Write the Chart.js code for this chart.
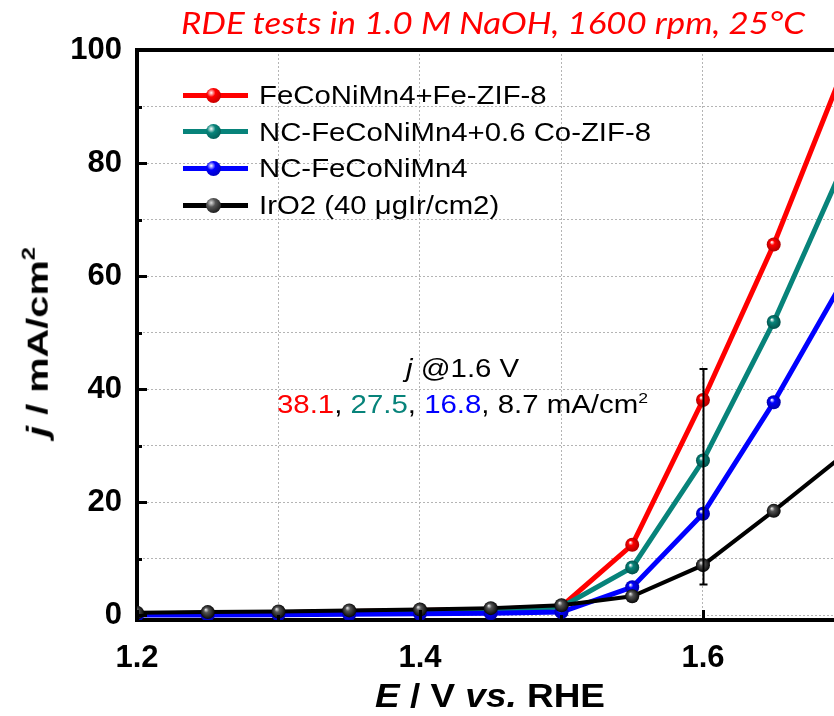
<!DOCTYPE html>
<html>
<head>
<meta charset="utf-8">
<script src="https://cdn.jsdelivr.net/npm/chart.js@4.4.1/dist/chart.umd.min.js"></script>
<style>
body { margin: 0; background: #fff; }
#wrap { position: relative; width: 834px; height: 716px; overflow: hidden; font-family: 'Liberation Sans', Arial, sans-serif; }
#myChart { position: absolute; left: 0; top: 0; }
.txt { position: absolute; white-space: nowrap; line-height: 1; transform-origin: left center; }
.sup { font-size: 0.6em; vertical-align: 0.7em; line-height: 0; }
.leg-line { position: absolute; height: 5px; }
.leg-dot { position: absolute; width: 15px; height: 15px; border-radius: 50%; }
</style>
</head>
<body>
<div id="wrap">
  <canvas id="myChart" width="834" height="716"></canvas>
  <div id="title" class="txt" style="color:#ff0000;font-family:Lato,'Open Sans',sans-serif;font-style:italic;font-size:30px;">RDE tests in 1.0 M NaOH, 1600 rpm, 25°C</div>
  <div id="ytitle" class="txt" style="font-weight:bold;font-size:30px;transform-origin:center center;"><i>j</i> / mA/cm<span class="sup">2</span></div>
  <div id="xtitle" class="txt" style="font-weight:bold;font-size:33px;"><i>E</i> / V <i>vs.</i> RHE</div>
  <div id="note1" class="txt" style="font-size:25px;"><i>j</i> @1.6 V</div>
  <div id="note2" class="txt" style="font-size:25px;"></div>
</div>
<script>
/*-----data-----*/
var potentials = [1.2, 1.25, 1.3, 1.35, 1.4, 1.45, 1.5, 1.55, 1.6, 1.65, 1.7];
var feZif8 = [0.3, 0.4, 0.5, 0.7, 0.9, 1.1, 1.6, 12.5, 38.1, 65.6, 97.0];
var coZif8 = [0.3, 0.4, 0.5, 0.7, 0.8, 1.0, 1.5, 8.5, 27.4, 51.9, 80.0];
var ncOnly = [0.1, 0.1, 0.15, 0.2, 0.3, 0.4, 0.6, 5.0, 18.0, 37.7, 59.6];
var iro2 = [0.5, 0.6, 0.7, 0.9, 1.05, 1.3, 1.8, 3.4, 8.9, 18.5, 28.5];

var seriesNames = ['FeCoNiMn4+Fe-ZIF-8', 'NC-FeCoNiMn4+0.6 Co-ZIF-8', 'NC-FeCoNiMn4', 'IrO2 (40 μgIr/cm2)'];
var seriesData = [feZif8, coZif8, ncOnly, iro2];

// j @ 1.6 V values written in the note
var noteValues = ['38.1', '27.5', '16.8', '8.7'];

// vertical bar at 1.6 V
var barPotential = 1.6;
var barRange = [5.5, 43.6];

var xGrid = [1.2, 1.3, 1.4, 1.5, 1.6];
var xLabels = [1.2, 1.4, 1.6];
var yGrid = [0, 10, 20, 30, 40, 50, 60, 70, 80, 90, 100];
var yLabels = [0, 20, 40, 60, 80, 100];

/*-----styles-----*/
var lineColors = ['#ff0000', '#07837a', '#0000ff', '#000000'];
var darkColors = ['#a80000', '#024d47', '#0000a0', '#000000'];
var lightColors = ['#ffffff', '#ffffff', '#ffffff', '#dddddd'];
var lineWidths = [5, 5, 5, 4];
var drawOrder = [3, 2, 1, 0];

function sphere(i) {
    return function(c) {
        if (c.type !== 'data') return lineColors[i];
        var xs = c.chart.scales.x, ys = c.chart.scales.y;
        if (!xs || !ys) return lineColors[i];
        var px = xs.getPixelForValue(c.parsed.x);
        var py = ys.getPixelForValue(c.parsed.y);
        if (!isFinite(px) || !isFinite(py)) return lineColors[i];
        var g = c.chart.ctx.createRadialGradient(px - 2, py - 2.5, 0.3, px, py, 7.5);
        g.addColorStop(0, lightColors[i]);
        g.addColorStop(0.3, i === 3 ? '#555555' : lineColors[i]);
        g.addColorStop(1, darkColors[i]);
        return g;
    };
}

var datasets = [];
for (var i = 0; i < seriesData.length; i++) {
    var pts = [];
    for (var k = 0; k < potentials.length; k++) {
        pts.push({ x: potentials[k], y: seriesData[i][k] });
    }
    datasets.push({
        label: seriesNames[i],
        data: pts,
        borderColor: lineColors[i],
        borderWidth: lineWidths[i],
        pointRadius: 7,
        pointBorderWidth: 0,
        pointBackgroundColor: sphere(i),
        order: drawOrder[i],
        clip: 0,
        tension: 0
    });
}

/*-----frame, inward ticks and the bar at 1.6 V-----*/
var framePlugin = {
    id: 'frame',
    afterDraw: function(chart) {
        var ctx = chart.ctx, a = chart.chartArea;
        var xs = chart.scales.x, ys = chart.scales.y;
        ctx.save();
        ctx.strokeStyle = '#000';
        ctx.lineWidth = 4;
        ctx.beginPath();
        ctx.moveTo(a.left - 2, a.top);
        ctx.lineTo(a.right, a.top);
        ctx.stroke();

        ctx.lineWidth = 3;
        for (var i = 0; i < yGrid.length; i++) {
            var py = Math.round(ys.getPixelForValue(yGrid[i])) + 0.5;
            var len = yLabels.indexOf(yGrid[i]) >= 0 ? 10 : 5;
            ctx.beginPath();
            ctx.moveTo(a.left, py);
            ctx.lineTo(a.left + len, py);
            ctx.stroke();
        }
        for (var j = 0; j < xGrid.length; j++) {
            var px = Math.round(xs.getPixelForValue(xGrid[j])) + 0.5;
            var xlen = xLabels.indexOf(xGrid[j]) >= 0 ? 10 : 5;
            ctx.beginPath();
            ctx.moveTo(px, a.bottom);
            ctx.lineTo(px, a.bottom - xlen);
            ctx.stroke();
        }

        var bx = Math.round(xs.getPixelForValue(barPotential)) + 0.5;
        var b1 = ys.getPixelForValue(barRange[0]);
        var b2 = ys.getPixelForValue(barRange[1]);
        ctx.lineWidth = 2;
        ctx.beginPath();
        ctx.moveTo(bx, b1); ctx.lineTo(bx, b2);
        ctx.moveTo(bx - 4, b1); ctx.lineTo(bx + 4, b1);
        ctx.moveTo(bx - 4, b2); ctx.lineTo(bx + 4, b2);
        ctx.stroke();
        ctx.restore();
    }
};

/*-----chart-----*/
var tickFont = { family: "'Liberation Sans', Arial, sans-serif", size: 31, weight: 'bold' };
var ctx = document.getElementById('myChart').getContext('2d');
var myChart = new Chart(ctx, {
    type: 'line',
    data: { datasets: datasets },
    options: {
        responsive: false,
        animation: false,
        layout: { autoPadding: false, padding: { top: 50, right: 0, left: 0, bottom: 0 } },
        plugins: { legend: { display: false }, tooltip: { enabled: false } },
        scales: {
            x: {
                type: 'linear',
                min: 1.2,
                max: 1.6926,
                afterFit: function(s) {
                    s.height = 96;
                    s.paddingLeft = 0;
                    s.paddingRight = 0;
                },
                afterBuildTicks: function(s) {
                    s.ticks = xGrid.map(function(v) { return { value: v }; });
                },
                ticks: {
                    color: '#000',
                    font: tickFont,
                    padding: 20,
                    autoSkip: false,
                    maxRotation: 0,
                    callback: function(v) { return xLabels.indexOf(v) >= 0 ? v.toFixed(1) : ''; }
                },
                grid: { color: '#b4b4b4', lineWidth: 1, drawTicks: false },
                border: { display: true, color: '#000', width: 4, dash: [2, 2] }
            },
            y: {
                min: -0.8,
                max: 100,
                afterFit: function(s) { s.width = 137; },
                afterBuildTicks: function(s) {
                    s.ticks = yGrid.map(function(v) { return { value: v }; });
                },
                ticks: {
                    color: '#000',
                    font: tickFont,
                    padding: 15,
                    autoSkip: false,
                    callback: function(v) { return yLabels.indexOf(v) >= 0 ? String(v) : ''; }
                },
                grid: { color: '#b4b4b4', lineWidth: 1, drawTicks: false },
                border: { display: true, color: '#000', width: 4, dash: [2, 2] }
            }
        }
    },
    plugins: [framePlugin]
});
// redraw once scales exist so the point gradients get their pixel positions
myChart.update();

/*-----text around the chart-----*/
function place(el, cx, cy, width) {
    var r = el.getBoundingClientRect();
    var s = width / r.width;
    el.style.left = (cx - width / 2) + 'px';
    el.style.top = (cy - r.height / 2) + 'px';
    el.style.transform = 'scaleX(' + s + ')';
    return s;
}

var note2 = document.getElementById('note2');
var noteHtml = '';
for (var n = 0; n < noteValues.length; n++) {
    var last = n === noteValues.length - 1;
    noteHtml += '<span style="color:' + lineColors[n] + '">' + noteValues[n] + '</span>';
    noteHtml += last ? ' mA/cm<span class="sup">2</span>' : ', ';
}
note2.innerHTML = noteHtml;

place(document.getElementById('title'), 493, 22, 624);
place(document.getElementById('xtitle'), 490, 695, 230);
var noteScale = place(note2, 462.5, 404, 371);
var note1 = document.getElementById('note1');
var n1w = note1.getBoundingClientRect().width * noteScale;
place(note1, 462.5, 368, n1w);

var yt = document.getElementById('ytitle');
var yr = yt.getBoundingClientRect();
yt.style.left = (38 - yr.width / 2) + 'px';
yt.style.top = (342 - yr.height / 2) + 'px';
yt.style.transform = 'rotate(-90deg) scaleX(' + (190 / yr.width) + ')';

/*-----legend-----*/
var wrap = document.getElementById('wrap');
var legTexts = [];
var widest = 0;
for (var L = 0; L < seriesNames.length; L++) {
    var cy = 95 + L * 36.7;
    var line = document.createElement('div');
    line.className = 'leg-line';
    line.style.left = '183px';
    line.style.width = '65px';
    line.style.top = (cy - 2.5) + 'px';
    line.style.background = lineColors[L];
    wrap.appendChild(line);

    var dot = document.createElement('div');
    dot.className = 'leg-dot';
    dot.style.left = (213 - 7.5) + 'px';
    dot.style.top = (cy - 7.5) + 'px';
    dot.style.background = 'radial-gradient(circle at 35% 32%, ' + lightColors[L] + ' 0, ' +
        (L === 3 ? '#555555' : lineColors[L]) + ' 30%, ' + darkColors[L] + ' 100%)';
    wrap.appendChild(dot);

    var t = document.createElement('div');
    t.className = 'txt';
    t.style.fontSize = '26px';
    t.textContent = seriesNames[L];
    wrap.appendChild(t);
    var w = t.getBoundingClientRect().width;
    if (w > widest) widest = w;
    legTexts.push({ el: t, y: cy });
}
var legScale = 392 / widest;
for (var q = 0; q < legTexts.length; q++) {
    var el = legTexts[q].el;
    var h = el.getBoundingClientRect().height;
    el.style.left = '259px';
    el.style.top = (legTexts[q].y - h / 2) + 'px';
    el.style.transform = 'scaleX(' + legScale + ')';
}
</script>
</body>
</html>
